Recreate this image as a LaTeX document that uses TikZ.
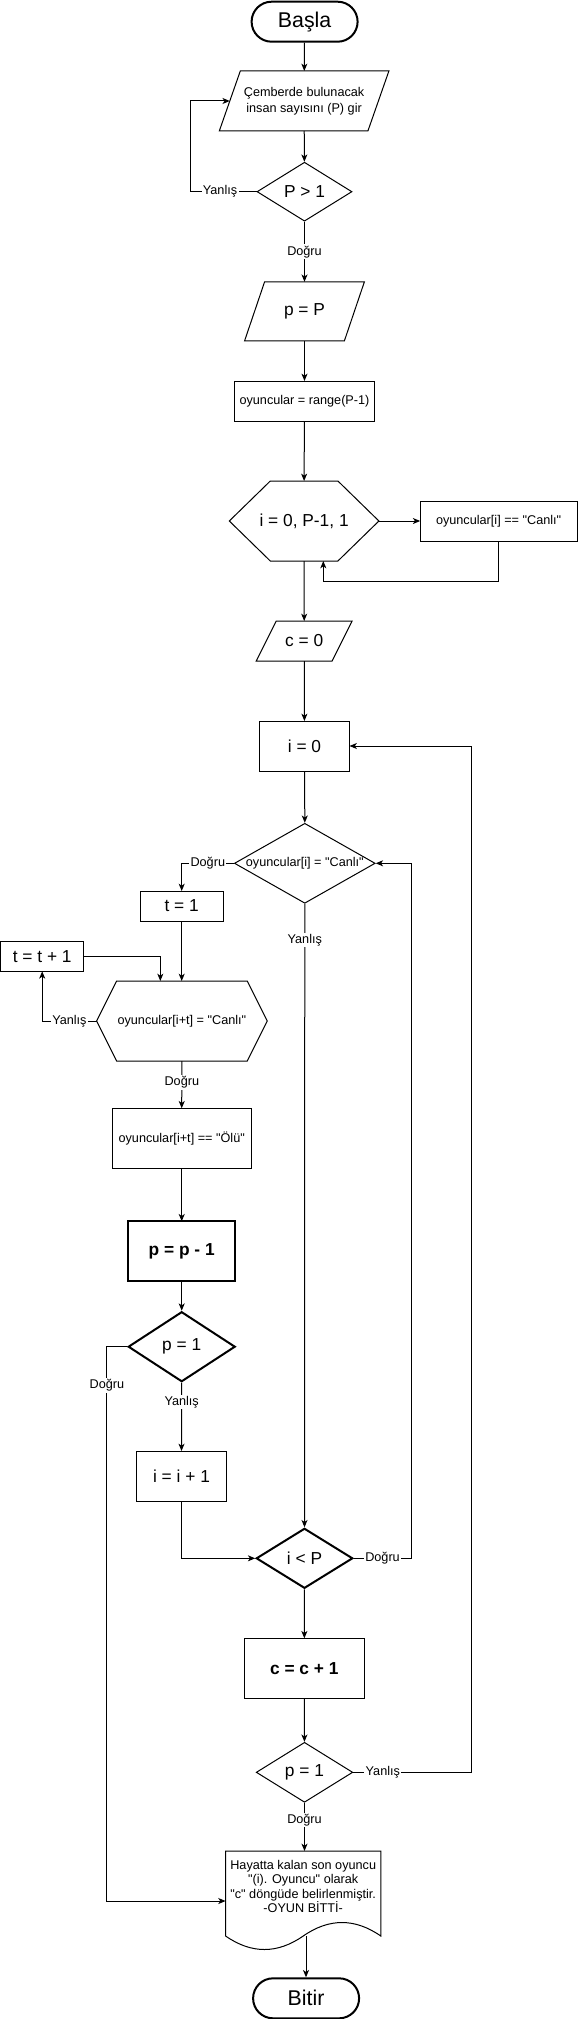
\documentclass[tikz,border=0pt]{standalone}
\usepackage{fontspec}
\setmainfont{Liberation Sans}[Ligatures=TeXOff]
\usetikzlibrary{shapes.geometric,arrows.meta,calc,positioning}

\newcommand{\fsmall}{\fontsize{9.5}{10.8}\selectfont}
\newcommand{\fmid}{\fontsize{13}{15}\selectfont}
\newcommand{\fbig}{\fontsize{16}{19}\selectfont}

\begin{document}
\begin{tikzpicture}[x=0.75pt,y=-0.75pt,line width=0.75pt,
  term/.style={draw,rectangle,rounded corners=15pt,line width=1.5pt,minimum width=79.5pt,minimum height=30pt,font=\fbig},
  proc/.style={draw,rectangle,inner sep=2pt,outer sep=0pt,font=\fmid},
  io/.style={rectangle,inner sep=2pt,outer sep=0pt,align=center,font=\fmid},
  dec/.style={draw,diamond,inner sep=1pt,font=\fmid},
  lbl/.style={fill=white,inner sep=1pt,font=\fsmall},
  arr/.style={-{Stealth[length=5.5pt,width=4.5pt,inset=1.5pt]}}]

\useasboundingbox (0,0) rectangle (578,2019);

% main column
\node[term] (basla) at (304.6,21.7) {Başla};
\node[io,font={\fontsize{9.5}{12}\selectfont},minimum width=127.2pt,minimum height=45pt] (inp) at (304.1,101) {Çemberde bulunacak\\insan sayısını (P) gir};
\node[dec,aspect=1.61,minimum width=71.25pt,minimum height=44.25pt] (pgt) at (304.5,191.7) {P > 1};
\node[io,minimum width=89.85pt,minimum height=44.25pt] (peq) at (304.5,311.3) {p = P};
\node[proc,font=\fsmall,minimum width=105pt,minimum height=30pt] (range) at (304.5,401) {oyuncular = range(P-1)};
\node[io,minimum width=112.2pt,minimum height=60pt] (hexa) at (304.1,521) {i = 0, P-1, 1};
\node[proc,font=\fsmall,minimum width=117.6pt,minimum height=30pt] (canli) at (498.6,521) {oyuncular[i] == "Canlı"};
\node[io,minimum width=71.85pt,minimum height=30pt] (czero) at (304.2,641) {c = 0};
\node[proc,minimum width=67.5pt,minimum height=37.5pt] (izero) at (304.5,746) {i = 0};
\node[dec,font=\fsmall,aspect=1.76,minimum width=105.6pt,minimum height=60pt] (ocanli) at (304.8,863.3) {\makebox[0pt]{oyuncular[i] = "Canlı"}};

% left column
\node[proc,minimum width=62.55pt,minimum height=22.5pt] (tone) at (181.7,906) {t = 1};
\node[proc,minimum width=62.25pt,minimum height=22.5pt] (tinc) at (42.2,956.3) {t = t + 1};
\node[io,font=\fsmall,minimum width=127.95pt,minimum height=60pt] (hexb) at (181.9,1021) {oyuncular[i+t] = "Canlı"};
\node[proc,font=\fsmall,minimum width=104pt,minimum height=45pt] (olu) at (181.7,1138.3) {oyuncular[i+t] == "Ölü"};
\node[proc,line width=1.5pt,font=\fmid\bfseries,minimum width=80.25pt,minimum height=45pt] (pmin) at (181.7,1251.3) {p = p - 1};
\node[dec,line width=1.5pt,aspect=1.53,minimum width=80.25pt,minimum height=52.5pt] (pone) at (181.7,1346.7) {p = 1};
\node[proc,minimum width=67.5pt,minimum height=37.5pt] (iinc) at (181.5,1476) {i = i + 1};

% lower column
\node[dec,line width=1.5pt,aspect=1.61,minimum width=72.4pt,minimum height=45pt] (ilt) at (304.5,1558.3) {i < P};
\node[proc,font=\fmid\bfseries,minimum width=90pt,minimum height=45pt] (cinc) at (304.3,1668.3) {c = c + 1};
\node[dec,aspect=1.61,minimum width=72.4pt,minimum height=45pt] (ptwo) at (304.5,1772.3) {p = 1};
\node[io,font=\fsmall,minimum width=116.4pt,minimum height=53.25pt] (doc) at (303.2,1886.5) {Hayatta kalan son oyuncu\\"(i). Oyuncu" olarak\\"c" döngüde belirlenmiştir.\\-OYUN BİTTİ-};
\node[term] (bitir) at (306.1,1998.3) {Bitir};

% outlines
\draw ([xshift=15.75pt]inp.north west) -- (inp.north east) -- ([xshift=-15.75pt]inp.south east) -- (inp.south west) -- cycle;
\draw ([xshift=15pt]peq.north west) -- (peq.north east) -- ([xshift=-15pt]peq.south east) -- (peq.south west) -- cycle;
\draw ([xshift=15pt]czero.north west) -- (czero.north east) -- ([xshift=-15pt]czero.south east) -- (czero.south west) -- cycle;
\draw (hexa.west) -- ([xshift=30.75pt]hexa.north west) -- ([xshift=-30.75pt]hexa.north east) -- (hexa.east)
  -- ([xshift=-30.75pt]hexa.south east) -- ([xshift=30.75pt]hexa.south west) -- cycle;
\draw (hexb.west) -- ([xshift=15pt]hexb.north west) -- ([xshift=-15pt]hexb.north east) -- (hexb.east)
  -- ([xshift=-15pt]hexb.south east) -- ([xshift=15pt]hexb.south west) -- cycle;
\draw (doc.north west) -- (doc.north east) -- ++(0,85)
  .. controls +(-25.9,-18) and +(25.9,-18) .. ++(-77.6,0)
  .. controls +(-25.9,18) and +(25.9,18) .. ++(-77.6,0) -- cycle;

\coordinate (inpL) at ($(inp.west)+(10.5,0)$);
\coordinate (docL) at ($(doc.west)+(0,14.5)$);
\coordinate (docB) at ($(doc.north west)+(80.4,85)$);

% connectors
\draw[arr] (basla) -- (inp);
\draw[arr] (inp) -- (pgt);
\draw[arr] (pgt.west) -- node[lbl,pos=0.55] {Yanlış} ++(-66.3,0) |- (inpL);
\draw[arr] (pgt.south) -- node[lbl] {Doğru} (peq.north);
\draw[arr] (peq) -- (range);
\draw[arr] (range) -- (hexa.north);
\draw[arr] (hexa.east) -- (canli.west);
\draw[arr] (canli.south) -- ++(0,40) -| ($(hexa.south)+(19.2,0)$);
\draw[arr] (hexa.south) -- (czero.north);
\draw[arr] (czero) -- (izero);
\draw[arr] (izero) -- (ocanli.north);
\draw[arr] (ocanli.west) -| node[lbl,pos=0.25] {Doğru} (tone.north);
\draw[arr] (tone) -- (hexb.north -| tone);
\draw[arr] (tinc.east) -| ($(hexb.north)+(-21.6,0)$);
\draw[arr] (hexb.west) -| node[lbl,pos=0.25] {Yanlış} (tinc.south);
\draw[arr] (hexb.south) -- node[lbl,pos=0.45] {Doğru} (olu.north);
\draw[arr] (olu) -- (pmin);
\draw[arr] (pmin) -- (pone);
\draw[arr] (pone.west) -- ++(-20.3,0) |- node[lbl,pos=0.035] {Doğru} (docL);
\draw[arr] (pone.south) -- node[lbl,pos=0.28] {Yanlış} (iinc.north);
\draw[arr] (iinc.south) |- (ilt.west);
\draw[arr] (ocanli.south) -- node[lbl,pos=0.058] {Yanlış} (ilt.north);
\draw[arr] (ilt.east) -- node[lbl] {Doğru} ++(57.5,0) |- (ocanli.east);
\draw[arr] (ilt) -- (cinc);
\draw[arr] (cinc) -- (ptwo);
\draw[arr] (ptwo.east) -- node[lbl,pos=0.25] {Yanlış} ++(118.3,0) |- (izero.east);
\draw[arr] (ptwo.south) -- node[lbl,pos=0.36] {Doğru} (doc.north -| ptwo);
\draw[arr] (docB) -- (docB |- bitir.north);

\end{tikzpicture}
\end{document}
